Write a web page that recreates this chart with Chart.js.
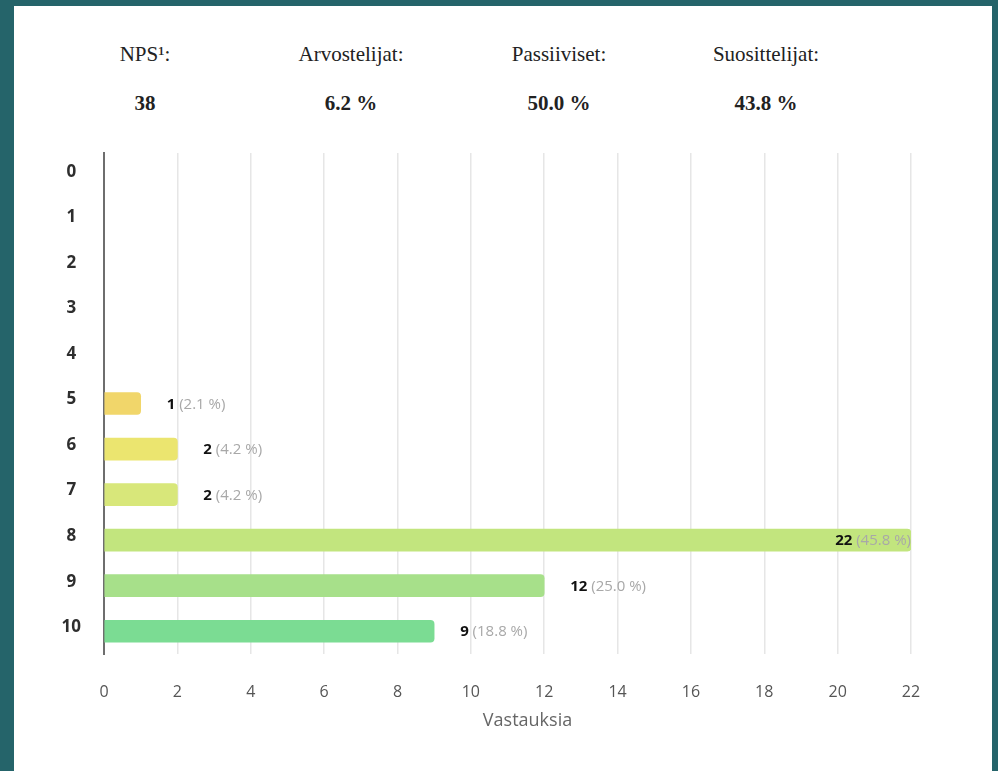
<!DOCTYPE html>
<html>
<head>
<meta charset="utf-8">
<script src="https://cdn.jsdelivr.net/npm/chart.js@4.4.0/dist/chart.umd.min.js"></script>
<style>
  html, body { margin: 0; padding: 0; }
  body { width: 998px; height: 771px; background: #25646a; position: relative; overflow: hidden; }
  .panel { position: absolute; left: 14px; top: 6px; width: 978px; height: 765px; background: #fff; }
  .head { position: absolute; transform: translateX(-50%); font-family: "Liberation Serif", serif; font-size: 21px; color: #222; white-space: nowrap; }
  .head.val { font-weight: bold; }
  canvas { position: absolute; left: 0; top: 0; }
</style>
</head>
<body>
<div class="panel"></div>
<div id="heads"></div>
<canvas id="npsChart" width="998" height="771"></canvas>
<script>
// header figures
const headLabels = ['NPS¹:', 'Arvostelijat:', 'Passiiviset:', 'Suosittelijat:']
const headValues = ['38', '6.2 %', '50.0 %', '43.8 %']

// score rows and answer counts
const scores = ['0', '1', '2', '3', '4', '5', '6', '7', '8', '9', '10']
const counts = [0, 0, 0, 0, 0, 1, 2, 2, 22, 12, 9]
const shares = [0, 0, 0, 0, 0, 2.1, 4.2, 4.2, 45.8, 25.0, 18.8]
const barColors = ['#f2d66b', '#f2d66b', '#f2d66b', '#f2d66b', '#f2d66b',
  '#f1d66a', '#ebe56f', '#d8e77a', '#c2e57e', '#a7e08a', '#7bdc93']
const xTicks = [0, 2, 4, 6, 8, 10, 12, 14, 16, 18, 20, 22]
const xTitle = 'Vastauksia'

const headX = [145, 351, 559, 766]
const heads = document.getElementById('heads')
headLabels.forEach((t, i) => {
  const a = document.createElement('div')
  a.className = 'head'
  a.style.left = headX[i] + 'px'
  a.style.top = '42px'
  a.textContent = t
  heads.appendChild(a)
  const b = document.createElement('div')
  b.className = 'head val'
  b.style.left = headX[i] + 'px'
  b.style.top = '91px'
  b.textContent = headValues[i]
  heads.appendChild(b)
})

const valueLabels = {
  id: 'valueLabels',
  afterDatasetsDraw(chart) {
    const ctx = chart.ctx
    const meta = chart.getDatasetMeta(0)
    const area = chart.chartArea
    ctx.save()
    ctx.textBaseline = 'middle'
    meta.data.forEach((bar, i) => {
      if (!counts[i]) return
      const n = String(counts[i])
      const p = ' (' + shares[i].toFixed(1) + ' %)'
      ctx.font = 'bold 15px "Open Sans"'
      const wn = ctx.measureText(n).width
      ctx.font = '15px "Open Sans"'
      const wp = ctx.measureText(p).width
      let x = bar.x + 26
      if (x + wn + wp > area.right) x = area.right - wn - wp
      ctx.font = 'bold 15px "Open Sans"'
      ctx.fillStyle = '#111'
      ctx.textAlign = 'left'
      ctx.fillText(n, x, bar.y + 1)
      ctx.font = '15px "Open Sans"'
      ctx.fillStyle = '#a8a8a8'
      ctx.fillText(p, x + wn, bar.y + 1)
    })
    // axis title, sits a little right of the plot centre in the original
    ctx.font = '18px "Open Sans"'
    ctx.fillStyle = '#666'
    ctx.textAlign = 'center'
    ctx.fillText(xTitle, (area.left + area.right) / 2 + 20, area.bottom + 67)
    ctx.restore()
  }
}

new Chart(document.getElementById('npsChart'), {
  type: 'bar',
  data: {
    labels: scores,
    datasets: [{
      data: counts,
      backgroundColor: (c) => counts[c.dataIndex] ? barColors[c.dataIndex] : 'rgba(0,0,0,0)',
      barThickness: 22,
      borderRadius: 4
    }]
  },
  options: {
    indexAxis: 'y',
    responsive: false,
    animation: false,
    layout: { padding: { top: 153, right: 87, left: 0, bottom: 0 } },
    plugins: { legend: { display: false }, tooltip: { enabled: false } },
    scales: {
      x: {
        min: 0,
        max: 22,
        afterBuildTicks: (s) => { s.ticks = xTicks.map(v => ({ value: v })) },
        afterFit: (s) => { s.height = 117 },
        grid: { color: '#e6e6e6', lineWidth: 1.5, drawTicks: false },
        border: { display: false },
        ticks: { padding: 29, color: '#555', font: { family: 'Open Sans', size: 16 } }
      },
      y: {
        afterFit: (s) => { s.width = 104 },
        grid: { display: false, drawTicks: false },
        border: { color: '#6e6e6e', width: 2 },
        ticks: {
          padding: 23,
          crossAlign: 'center',
          labelOffset: -4,
          color: '#2e2e2e',
          font: { family: 'Open Sans', size: 17, weight: 'bold' }
        }
      }
    }
  },
  plugins: [valueLabels]
})
</script>
</body>
</html>
